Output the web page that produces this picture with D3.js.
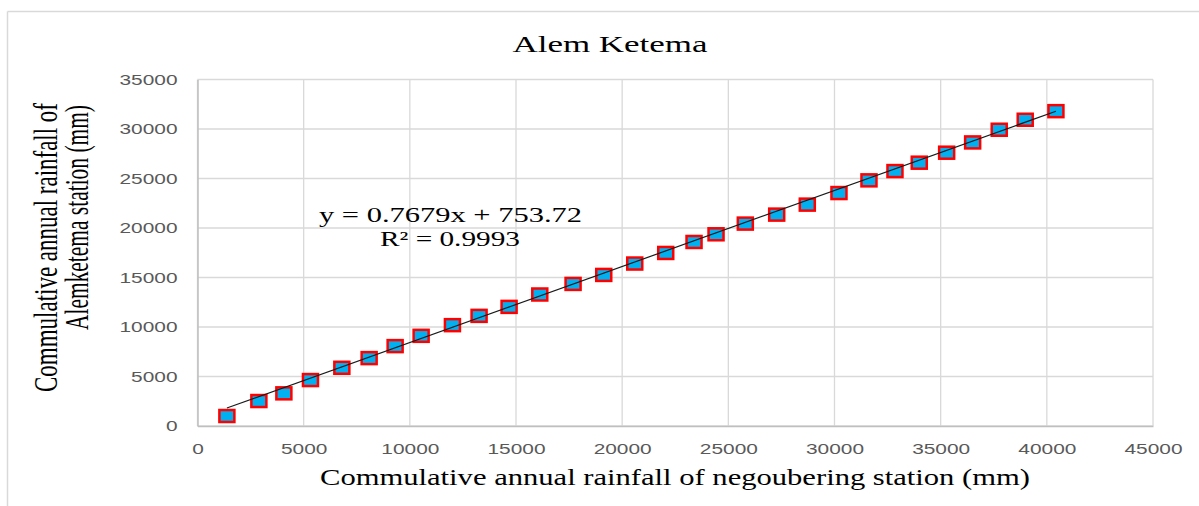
<!DOCTYPE html>
<html>
<head>
<meta charset="utf-8">
<script src="https://cdn.jsdelivr.net/npm/d3@7"></script>
<style>
  html, body { margin: 0; padding: 0; background: #fff; }
  svg { display: block; }
</style>
</head>
<body>
<svg id="chart" width="1199" height="506"></svg>
<script>
// ---- data ----
const negoubering = [1384, 2891, 4068, 5320, 6798, 8084, 9308, 10532, 12006, 13262,
  14675, 16120, 17688, 19133, 20593, 22052, 23385, 24421, 25800, 27278,
  28719, 30211, 31624, 32848, 33992, 35282, 36506, 37758, 38982, 40428];
const alemketema = [1009, 2522, 3298, 4640, 5880, 6858, 8069, 9108, 10187, 11125,
  12033, 13283, 14352, 15260, 16410, 17479, 18589, 19365, 20444, 21352,
  22361, 23531, 24812, 25750, 26597, 27606, 28644, 29925, 30934, 31801];
const xTicks = [0, 5000, 10000, 15000, 20000, 25000, 30000, 35000, 40000, 45000];
const yTicks = [0, 5000, 10000, 15000, 20000, 25000, 30000, 35000];
const trendSlope = 0.7679;
const trendIntercept = 753.72;
const titleText = "Alem Ketema";
const xTitle = "Commulative annual rainfall  of negoubering station (mm)";
const yTitle1 = "Commulative annual rainfall of";
const yTitle2 = "Alemketema station (mm)";
const eqText = "y = 0.7679x + 753.72";
const r2Text = "R\u00B2 = 0.9993";

// ---- layout ----
const svg = d3.select("#chart");
const pLeft = 197.5, pRight = 1153, pTop = 79.5, pBottom = 426;
const x = d3.scaleLinear().domain([0, 45000]).range([pLeft, pRight]);
const y = d3.scaleLinear().domain([0, 35000]).range([pBottom, pTop]);
const gridColor = "#d9d9d9";
const tickColor = "#595959";
const serif = "'Liberation Serif', 'Times New Roman', serif";
const sans = "'Liberation Sans', Arial, sans-serif";

// outer chart border (top & left visible)
svg.append("line").attr("x1", 7.5).attr("x2", 1199).attr("y1", 11.5).attr("y2", 11.5)
  .attr("stroke", gridColor).attr("stroke-width", 1.5);
svg.append("line").attr("x1", 7.5).attr("x2", 7.5).attr("y1", 11.5).attr("y2", 506)
  .attr("stroke", gridColor).attr("stroke-width", 1.5);

// gridlines
svg.append("g").selectAll("line").data(xTicks).join("line")
  .attr("x1", d => x(d)).attr("x2", d => x(d)).attr("y1", pTop).attr("y2", pBottom)
  .attr("stroke", gridColor).attr("stroke-width", 1.3);
svg.append("g").selectAll("line").data(yTicks).join("line")
  .attr("x1", pLeft).attr("x2", pRight).attr("y1", d => y(d)).attr("y2", d => y(d))
  .attr("stroke", gridColor).attr("stroke-width", 1.3);

// axes (labels via d3 axes)
const xAxis = svg.append("g").attr("transform", `translate(0,${pBottom})`)
  .call(d3.axisBottom(x).tickValues(xTicks).tickSize(0).tickPadding(17).tickFormat(d3.format("d")));
xAxis.select(".domain").attr("stroke", "#bfbfbf").attr("stroke-width", 1.5);
const yAxis = svg.append("g").attr("transform", `translate(${pLeft},0)`)
  .call(d3.axisLeft(y).tickValues(yTicks).tickSize(0).tickPadding(20).tickFormat(d3.format("d")));
yAxis.select(".domain").attr("stroke", "#bfbfbf").attr("stroke-width", 1.5);
svg.selectAll(".tick text")
  .attr("font-family", sans).attr("font-size", 15).attr("fill", tickColor)
  .each(function(d) {
    const s = String(d);
    d3.select(this).attr("textLength", s.length * 11.6).attr("lengthAdjust", "spacingAndGlyphs");
  });

// markers
svg.append("g").selectAll("rect").data(negoubering.map((v, i) => [v, alemketema[i]])).join("rect")
  .attr("x", d => x(d[0]) - 7.5).attr("y", d => y(d[1]) - 6)
  .attr("width", 15).attr("height", 12)
  .attr("fill", "#00b0f0").attr("stroke", "#ff0000").attr("stroke-width", 2.5);

// trendline
const xMin = d3.min(negoubering), xMax = d3.max(negoubering);
svg.append("line")
  .attr("x1", x(xMin)).attr("y1", y(trendSlope * xMin + trendIntercept))
  .attr("x2", x(xMax)).attr("y2", y(trendSlope * xMax + trendIntercept))
  .attr("stroke", "#1a1a1a").attr("stroke-width", 1.2);

// title
svg.append("text").attr("x", 610).attr("y", 52).attr("text-anchor", "middle")
  .attr("font-family", serif).attr("font-size", 24).attr("fill", "#000")
  .attr("textLength", 195).attr("lengthAdjust", "spacingAndGlyphs").text(titleText);

// x title
svg.append("text").attr("x", 675).attr("y", 485).attr("text-anchor", "middle")
  .attr("font-family", serif).attr("font-size", 24).attr("fill", "#000")
  .attr("textLength", 710).attr("lengthAdjust", "spacingAndGlyphs").text(xTitle);

// y title (two lines, rotated; glyphs stretched across the line like the reference)
svg.append("text").attr("transform", "translate(57,103) rotate(-90) scale(1,1.5)").attr("text-anchor", "end")
  .attr("font-family", serif).attr("font-size", 22).attr("fill", "#000")
  .attr("textLength", 289).attr("lengthAdjust", "spacingAndGlyphs").text(yTitle1);
svg.append("text").attr("transform", "translate(88,105) rotate(-90) scale(1,1.5)").attr("text-anchor", "end")
  .attr("font-family", serif).attr("font-size", 22).attr("fill", "#000")
  .attr("textLength", 225).attr("lengthAdjust", "spacingAndGlyphs").text(yTitle2);

// equation
svg.append("text").attr("x", 319).attr("y", 222)
  .attr("font-family", serif).attr("font-size", 22).attr("fill", "#000")
  .attr("textLength", 263).attr("lengthAdjust", "spacingAndGlyphs").text(eqText);
svg.append("text").attr("x", 380).attr("y", 246)
  .attr("font-family", serif).attr("font-size", 22).attr("fill", "#000")
  .attr("textLength", 140).attr("lengthAdjust", "spacingAndGlyphs").text(r2Text);
</script>
</body>
</html>
